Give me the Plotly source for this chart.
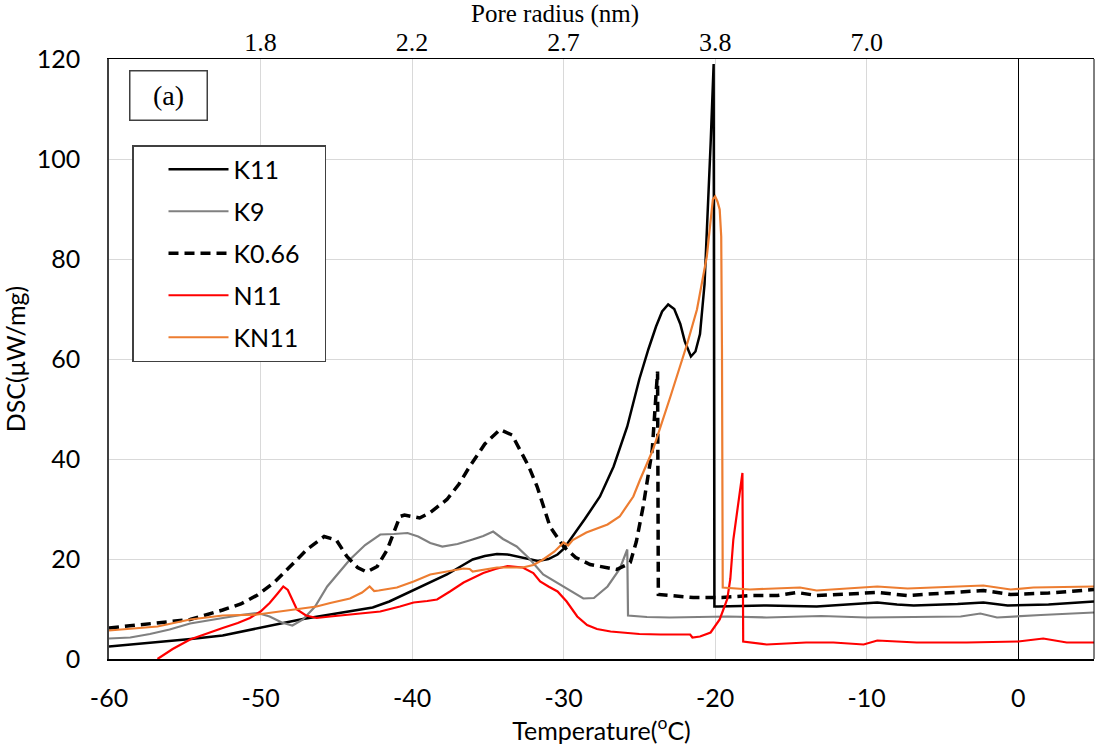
import plotly.graph_objects as go

# ---------------- data ----------------
k11_t = [-60, -57, -54.6, -52.5, -50.2, -48.5, -47.2, -45.5, -44.1, -42.6, -41.5, -40.8, -39.9, -38.8,
         -37.7, -36.8, -36.0, -35.2, -34.4, -33.7, -33.1, -32.4, -31.7, -31.0, -30.4, -30.0, -29.4,
         -28.6, -27.6, -26.7, -25.8, -25.0, -24.4, -23.9, -23.5, -23.1, -22.7, -22.3, -22.0, -21.6,
         -21.3, -21.0, -20.7, -20.5, -20.3, -20.1, -20.05, -19.8, -17.5, -16.6, -13.3, -11.5, -9.3,
         -8.0, -6.9, -4.0, -2.3, -0.7, 2.0, 5.0]
k11_y = [2.5, 3.3, 4.0, 4.7, 6.2, 7.2, 8.0, 8.9, 9.5, 10.3, 11.5, 12.5, 13.9, 15.4,
         16.9, 18.5, 19.9, 20.6, 21.0, 20.9, 20.5, 20.0, 19.6, 20.0, 20.9, 22.0, 24.5,
         28.0, 32.5, 38.5, 46.5, 56.0, 62.0, 66.5, 69.5, 70.9, 70.0, 67.0, 63.5, 60.5,
         61.5, 65.0, 75.0, 88.5, 103.0, 119.0, 10.5, 10.5, 10.7, 10.7, 10.5, 10.8, 11.3,
         10.9, 10.7, 11.0, 11.3, 10.7, 10.9, 11.5]

k9_t = [-60, -58.6, -57.3, -56, -54.65, -53.5, -52.5, -51.3, -50.2, -49.4, -48.6, -47.9, -47.2,
        -46.4, -45.6, -44.8, -44.1, -43.1, -42.1, -41.2, -40.3, -39.6, -38.8, -38.0, -37.0, -36.0,
        -35.3, -34.65, -34.0, -33.1, -32.3, -31.35, -30.0, -29.4, -28.7, -28.0, -27.1, -26.3,
        -25.8, -25.75, -24.5, -23.0, -19.2, -16.6, -13.0, -10.0, -6.0, -3.8, -2.5, -1.4, 1.5, 5.0]
k9_y = [4.1, 4.3, 5.0, 5.9, 7.1, 7.7, 8.3, 8.8, 9.2, 8.5, 7.3, 6.7, 7.9,
        10.5, 14.5, 17.3, 19.9, 22.8, 24.9, 25.0, 25.2, 24.5, 23.2, 22.5, 23.0, 23.9,
        24.6, 25.5, 24.0, 22.5, 20.2, 16.9, 14.5, 13.5, 12.1, 12.2, 14.5, 18.0,
        21.9, 8.7, 8.4, 8.3, 8.5, 8.3, 8.6, 8.3, 8.5, 8.5, 9.1, 8.3, 8.8, 9.3]

k066_t = [-60, -57.5, -54.65, -52.5, -51.3, -50.2, -49.1, -48.05, -46.9, -45.8, -45.0, -44.3, -43.6,
          -43.0, -42.3, -41.65, -41.2, -40.8, -40.5, -40.0, -39.5, -38.8, -37.7, -36.9, -36.2, -35.2,
          -34.2, -33.4, -32.9, -32.3, -31.75, -30.9, -30.0, -29.2, -28.25, -27.2, -26.5, -25.8,
          -25.6, -25.2, -24.75, -24.15, -23.8, -23.75, -21.45, -19.55, -17.7, -15.9, -14.6, -13.3,
          -9.3, -7.3, -2.3, -0.5, 2.0, 5.0]
k066_y = [6.2, 7.0, 7.9, 9.8, 11.0, 12.8, 15.3, 18.5, 22.0, 24.5, 23.8, 20.5, 18.3,
          17.4, 18.5, 21.8, 25.5, 28.5, 28.8, 28.5, 28.2, 29.3, 31.9, 35.0, 38.5, 43.0,
          45.9, 44.8, 41.9, 38.5, 34.5, 26.5, 22.5, 20.3, 18.9, 18.3, 17.9, 18.9,
          19.3, 23.5, 30.5, 41.9, 57.5, 12.9, 12.3, 12.3, 12.7, 12.7, 13.3, 12.7,
          13.3, 12.7, 13.7, 12.9, 13.2, 13.9]

n11_t = [-56.8, -55.8, -54.65, -53.5, -52.5, -51.5, -50.7, -50.0, -49.4, -48.9, -48.5, -48.2, -47.9,
         -47.6, -47.0, -46.3, -45.4, -44.1, -43.0, -42.1, -40.8, -39.9, -39.0, -38.35, -37.5, -36.6,
         -35.3, -34.5, -33.7, -32.7, -32.0, -31.55, -31.0, -30.4, -29.8, -29.1, -28.45, -27.8,
         -26.9, -25.0, -23.6, -21.65, -21.5, -21.0, -20.3, -19.7, -19.2, -19.0, -18.8, -18.5,
         -18.2, -18.15, -16.6, -14.0, -12.2, -10.2, -9.3, -6.7, -3.4, 0.0, 1.65, 3.2, 5.0]
n11_y = [0.0, 2.0, 3.9, 5.2, 6.2, 7.2, 8.2, 9.5, 11.2, 13.0, 14.5, 13.8, 11.8,
         9.9, 8.7, 8.2, 8.5, 8.9, 9.2, 9.5, 10.5, 11.3, 11.6, 11.9, 13.5, 15.3,
         17.2, 18.0, 18.6, 18.3, 17.2, 15.5, 14.5, 13.5, 11.5, 8.5, 6.8, 6.0,
         5.5, 5.0, 4.9, 4.9, 4.3, 4.5, 5.3, 7.9, 12.0, 16.0, 23.9, 31.0,
         37.2, 3.5, 2.9, 3.3, 3.3, 2.9, 3.7, 3.3, 3.3, 3.5, 4.1, 3.3, 3.3]

kn11_t = [-60, -56.8, -54.65, -52.5, -50.2, -48.05, -46.3, -45.4, -44.1, -43.3, -42.8, -42.5, -42.2,
          -41.0, -39.9, -38.8, -37.7, -36.6, -36.2, -36.0, -34.4, -32.7, -32.0, -31.35, -30.6, -30.0,
          -29.7, -29.4, -28.5, -27.1, -26.3, -25.4, -24.95, -24.1, -22.95, -21.85, -21.2, -20.55,
          -20.15, -20.0, -19.85, -19.7, -19.6, -19.55, -19.5, -17.7, -14.4, -13.3, -9.3, -7.3,
          -2.3, -0.5, 1.0, 5.0]
kn11_y = [5.7, 6.5, 7.9, 8.7, 8.9, 9.7, 10.5, 11.2, 12.1, 13.3, 14.5, 13.6, 13.7,
          14.3, 15.5, 16.9, 17.5, 18.1, 18.0, 17.5, 18.3, 18.3, 18.8, 19.9, 21.5, 23.3,
          22.7, 23.8, 25.3, 26.9, 28.5, 32.5, 35.9, 41.9, 52.5, 63.0, 69.9, 80.5,
          91.9, 92.5, 91.5, 89.9, 84.5, 62.0, 14.3, 13.9, 14.3, 13.7, 14.5, 14.1,
          14.7, 13.9, 14.3, 14.5]

x_ticks = [-60, -50, -40, -30, -20, -10, 0]
x_labels = ["-60", "-50", "-40", "-30", "-20", "-10", "0"]
y_ticks = [0, 20, 40, 60, 80, 100, 120]
pore_ticks = [-50, -40, -30, -20, -10]
pore_labels = ["1.8", "2.2", "2.7", "3.8", "7.0"]

SANS = "Lato, 'Open Sans', sans-serif"
SERIF = "'Liberation Serif', 'Times New Roman', serif"
FS = 25
NB = "\u00a0"

fig = go.Figure()
series = [
    ("K11", k11_t, k11_y, dict(color="#000000", width=2.5)),
    ("K9", k9_t, k9_y, dict(color="#808080", width=2.2)),
    ("K0.66" + NB * 3, k066_t, k066_y, dict(color="#000000", width=3.5, dash="10px,6px")),
    ("N11", n11_t, n11_y, dict(color="#FF0000", width=2.2)),
    ("KN11", kn11_t, kn11_y, dict(color="#ED7D31", width=2.2)),
]
for name, t, y, ln in series:
    fig.add_trace(go.Scatter(x=t, y=y, mode="lines", name=name, line=ln,
                             legendgroup=name))

# invisible trace so that the top (pore radius) axis is drawn
fig.add_trace(go.Scatter(x=pore_ticks, y=[None] * len(pore_ticks), xaxis="x2", yaxis="y",
                         mode="lines", showlegend=False, hoverinfo="skip"))

fig.update_layout(
    width=1096, height=756,
    margin=dict(l=109, r=2, t=59, b=97),
    paper_bgcolor="white", plot_bgcolor="white",
    font=dict(family=SANS, size=FS, color="black"),
    showlegend=True,
    legend=dict(x=(132 - 109) / 985, y=1 - (145 - 59) / 600, xanchor="left", yanchor="top",
                bordercolor="#404040", borderwidth=1.5, bgcolor="white",
                font=dict(family=SANS, size=FS, color="black"),
                tracegroupgap=6.5, itemwidth=60, indentation=30),
    xaxis=dict(range=[-60, 5], tickvals=x_ticks, ticktext=x_labels, showgrid=True,
               gridcolor="#D9D9D9", gridwidth=1,
               showline=True, linecolor="black", linewidth=2, zeroline=True,
               zerolinecolor="black", zerolinewidth=1, ticks="", ticklabelstandoff=16,
               tickfont=dict(family=SANS, size=FS, color="black"),
               title=dict(text="Temperature(<sup>o</sup>C)", font=dict(family=SANS, size=FS),
                          standoff=6)),
    xaxis2=dict(range=[-60, 5], overlaying="x", side="top", anchor="y", tickvals=pore_ticks,
                ticktext=pore_labels, showgrid=False, showline=True, linecolor="black",
                linewidth=1, zeroline=False, ticks="", ticklabelstandoff=-3,
                tickfont=dict(family=SERIF, size=26, color="black")),
    yaxis=dict(range=[0, 120], tickvals=y_ticks, showgrid=True, gridcolor="#D9D9D9", gridwidth=1,
               showline=True, linecolor="#404040", linewidth=1.5, zeroline=False, ticks="",
               ticklabelstandoff=22, tickfont=dict(family=SANS, size=FS, color="black"),
               title=dict(text="DSC(μW/mg)", font=dict(family=SANS, size=FS), standoff=4)),
)

# right frame border
fig.add_shape(type="line", xref="paper", yref="paper", x0=1, x1=1, y0=0, y1=1,
              line=dict(color="black", width=1))

# top axis title
fig.add_annotation(text="Pore radius (nm)", xref="paper", yref="paper",
                   x=(555 - 109) / 985, y=1 + (59 - 14) / 600, xanchor="center",
                   yanchor="middle", showarrow=False,
                   font=dict(family=SERIF, size=25, color="black"))

# panel label box
fig.add_annotation(text="(a)", xref="paper", yref="paper",
                   x=(168 - 109) / 985, y=1 - (95 - 59) / 600, xanchor="center",
                   yanchor="middle", showarrow=False,
                   width=74, height=46, bordercolor="#404040", borderwidth=1.5,
                   font=dict(family=SERIF, size=28, color="black"), bgcolor="white")

fig.write_html("out.html")
